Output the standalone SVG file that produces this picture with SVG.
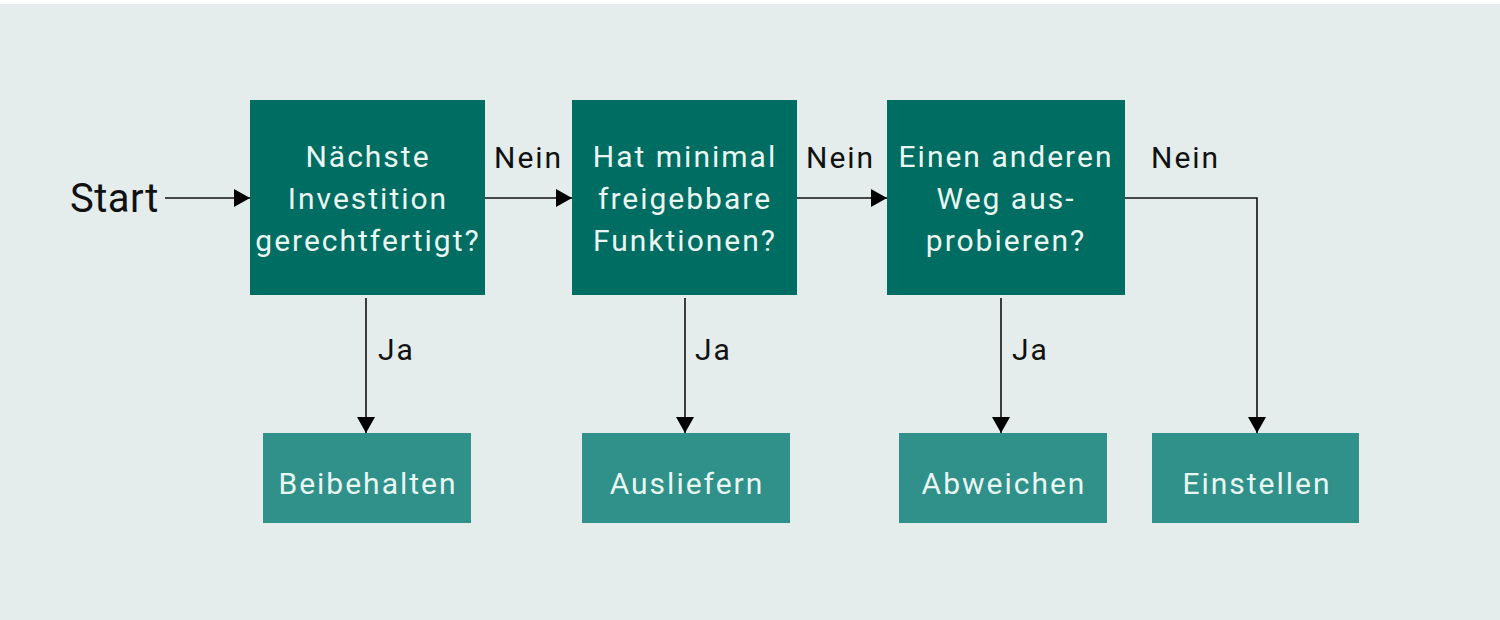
<svg xmlns="http://www.w3.org/2000/svg" width="1500" height="620" viewBox="0 0 1500 620">
<defs>
<marker id="arr" viewBox="0 0 16 18" refX="16" refY="9" markerWidth="16" markerHeight="18" markerUnits="userSpaceOnUse" orient="auto">
<path d="M0,0 L16,9 L0,18 Z" fill="#000"/>
</marker>
<style>
.bg{fill:#e4ecec}
.dq{fill:#006d62}
.lt{fill:#2f918a}
.wt{font-family:Roboto,"Liberation Sans",sans-serif;font-size:30px;fill:#eaf6f2;text-anchor:middle;letter-spacing:2px}
.bk{font-family:Roboto,"Liberation Sans",sans-serif;font-size:30px;fill:#111;letter-spacing:2px}
.ln{stroke:#111;stroke-width:1.6;fill:none}
</style>
</defs>
<rect x="0" y="0" width="1500" height="620" fill="#ffffff"/>
<rect class="bg" x="0" y="4" width="1500" height="616"/>
<g id="start"><text class="bk" x="70" y="212" style="font-size:40px;letter-spacing:0.5px">Start</text></g>
<g id="q1"><rect class="dq" x="250" y="100" width="235" height="195"/>
<text class="wt" x="368" y="167">Nächste</text><text class="wt" x="368" y="209">Investition</text><text class="wt" x="368" y="251">gerechtfertigt?</text></g>
<g id="q2"><rect class="dq" x="572" y="100" width="225" height="195"/>
<text class="wt" x="685" y="167">Hat minimal</text><text class="wt" x="685" y="209">freigebbare</text><text class="wt" x="685" y="251">Funktionen?</text></g>
<g id="q3"><rect class="dq" x="887" y="100" width="238" height="195"/>
<text class="wt" x="1006" y="167">Einen anderen</text><text class="wt" x="1006" y="209">Weg aus-</text><text class="wt" x="1006" y="251">probieren?</text></g>
<g id="r1"><rect class="lt" x="263" y="433" width="208" height="90"/><text class="wt" x="368" y="494">Beibehalten</text></g>
<g id="r2"><rect class="lt" x="582" y="433" width="208" height="90"/><text class="wt" x="687" y="494">Ausliefern</text></g>
<g id="r3"><rect class="lt" x="899" y="433" width="208" height="90"/><text class="wt" x="1004" y="494">Abweichen</text></g>
<g id="r4"><rect class="lt" x="1152" y="433" width="207" height="90"/><text class="wt" x="1257" y="494">Einstellen</text></g>
<g id="connectors">
<path class="ln" d="M165,198 H250" marker-end="url(#arr)"/>
<path class="ln" d="M485,198 H572" marker-end="url(#arr)"/>
<path class="ln" d="M797,198 H887" marker-end="url(#arr)"/>
<path class="ln" d="M1125,198 H1257 V433" marker-end="url(#arr)"/>
<path class="ln" d="M366,298 V433" marker-end="url(#arr)"/>
<path class="ln" d="M685,298 V433" marker-end="url(#arr)"/>
<path class="ln" d="M1001,298 V433" marker-end="url(#arr)"/>
<text class="bk" x="494" y="168">Nein</text>
<text class="bk" x="806" y="168">Nein</text>
<text class="bk" x="1151" y="168">Nein</text>
<text class="bk" x="378" y="360">Ja</text>
<text class="bk" x="695" y="360">Ja</text>
<text class="bk" x="1012" y="360">Ja</text>
</g>
</svg>
